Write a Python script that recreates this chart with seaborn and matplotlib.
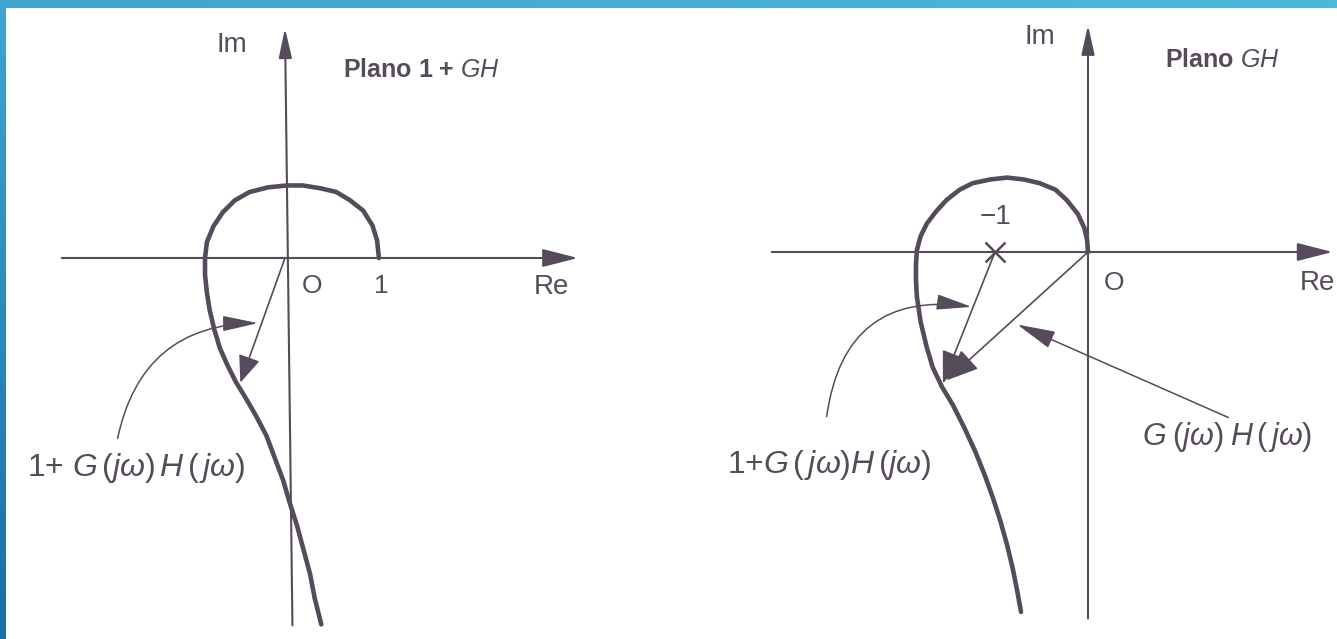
"""Nyquist diagrams: plane 1 + GH (left) and plane GH (right)."""

import matplotlib
matplotlib.use("Agg")
import numpy as np
import pandas as pd
from matplotlib import pyplot as plt
from matplotlib.colors import LinearSegmentedColormap
import seaborn as sns

# curve 1 + G(jw)H(jw) in the left plane (Re, Im)
one_gh_re = [1.01, 0.99, 0.94, 0.84, 0.70, 0.55, 0.38, 0.19, 0.02, -0.18,
             -0.38, -0.54, -0.67, -0.77, -0.84, -0.86, -0.86, -0.84, -0.81,
             -0.76, -0.70, -0.62, -0.53, -0.42, -0.31, -0.20, -0.11, -0.02,
             0.05, 0.13, 0.20, 0.27, 0.32, 0.39]
one_gh_im = [0.00, 0.19, 0.35, 0.51, 0.62, 0.71, 0.75, 0.78, 0.78, 0.76,
             0.71, 0.62, 0.49, 0.34, 0.17, 0.00, -0.18, -0.37, -0.56,
             -0.77, -0.97, -1.15, -1.33, -1.51, -1.70, -1.91, -2.15, -2.39,
             -2.63, -2.88, -3.14, -3.40, -3.66, -3.94]

# curve G(jw)H(jw) in the right plane (Re, Im)
gh_re = [0.00, -0.01, -0.04, -0.11, -0.23, -0.35, -0.52, -0.69, -0.87,
         -1.05, -1.24, -1.38, -1.52, -1.63, -1.73, -1.80, -1.84, -1.85,
         -1.85, -1.84, -1.80, -1.735, -1.67, -1.57, -1.45, -1.325, -1.21,
         -1.11, -1.02, -0.94, -0.87, -0.81, -0.76, -0.72]
gh_im = [0.00, 0.13, 0.26, 0.41, 0.56, 0.67, 0.74, 0.78, 0.80, 0.78, 0.74,
         0.67, 0.56, 0.44, 0.31, 0.17, 0.02, -0.14, -0.30, -0.48, -0.75,
         -1.02, -1.24, -1.45, -1.65, -1.90, -2.15, -2.40, -2.65, -2.90,
         -3.15, -3.40, -3.65, -3.87]

# vectors (start, tip)
left_vec = [(0.0, 0.0), (-0.48, -1.34)]
right_vec_from_m1 = [(-1.0, 0.0), (-1.56, -1.41)]
right_vec_from_0 = [(0.0, 0.0), (-1.52, -1.38)]
minus_one = (-1.0, 0.0)

# axis extents: (re_min, re_max, im_min, im_max)
left_axes = (-2.40, 3.15, -3.95, 2.47)
right_axes = (-3.40, 2.63, -3.94, 2.44)

INK = "#564b5a"

sns.set_theme(style="white")
plt.rcParams["font.family"] = ["Liberation Sans", "DejaVu Sans"]
plt.rcParams["mathtext.fontset"] = "custom"
plt.rcParams["mathtext.rm"] = "Liberation Sans"
plt.rcParams["mathtext.it"] = "Liberation Sans:italic"
plt.rcParams["lines.solid_joinstyle"] = "round"
plt.rcParams["lines.solid_capstyle"] = "round"

fig = plt.figure(figsize=(13.37, 6.39), dpi=100)
fig.patch.set_facecolor("white")

# pixel scale: 93 px per unit, origins at (285, 258) and (1088, 252)
ax1 = fig.add_axes([0, 0, 668 / 1337, 1])
ax1.set_xlim(-285 / 93, 383 / 93)
ax1.set_ylim(-381 / 93, 258 / 93)
ax2 = fig.add_axes([668 / 1337, 0, 669 / 1337, 1])
ax2.set_xlim(-420 / 93, 249 / 93)
ax2.set_ylim(-387 / 93, 252 / 93)


def arrow(ax, start, tip, lw, hl, hw, ms=40, rad=0.0):
    ax.annotate("", xy=tip, xytext=start,
                arrowprops=dict(arrowstyle=f"-|>,head_length={hl},head_width={hw}",
                                lw=lw, color=INK, shrinkA=0, shrinkB=0,
                                mutation_scale=ms,
                                connectionstyle=f"arc3,rad={rad}"))


def draw_axes(ax, ext, tilt=0.0):
    re_min, re_max, im_min, im_max = ext
    arrow(ax, (re_min, 0), (re_max, 0), 1.5, 0.55, 0.14)
    arrow(ax, (tilt, im_min), (0, im_max), 1.5, 0.45, 0.1)


for ax in (ax1, ax2):
    ax.set_axis_off()

# left plane
draw_axes(ax1, left_axes, tilt=0.08)
df1 = pd.DataFrame({"re": one_gh_re, "im": one_gh_im})
sns.lineplot(data=df1, x="re", y="im", sort=False, estimator=None,
             color=INK, lw=3.3, ax=ax1)
arrow(ax1, left_vec[0], left_vec[1], 1.2, 0.42, 0.17)
arrow(ax1, (-1.80, -1.94), (-0.29, -0.70), 1.1, 0.55, 0.12, rad=-0.4)

ax1.text(-0.74, 2.29, "Im", fontsize=20, color=INK, ha="left", va="center")
ax1.text(0.62, 2.02, r"Plano 1 + $GH$", fontsize=18, fontweight="bold",
         color=INK, ha="left", va="center")
ax1.text(0.18, -0.30, "O", fontsize=19, color=INK, ha="left", va="center")
ax1.text(0.96, -0.30, "1", fontsize=19, color=INK, ha="left", va="center")
ax1.text(2.68, -0.31, "Re", fontsize=20, color=INK, ha="left", va="center")
ax1.text(-2.77, -2.26, r"1+ $G\,(j\omega)\,H\,(\,j\omega)$", fontsize=23,
         color=INK, ha="left", va="center")

# right plane
draw_axes(ax2, right_axes)
df2 = pd.DataFrame({"re": gh_re, "im": gh_im})
sns.lineplot(data=df2, x="re", y="im", sort=False, estimator=None,
             color=INK, lw=3.3, ax=ax2)
arrow(ax2, right_vec_from_m1[0], right_vec_from_m1[1], 1.2, 0.5, 0.2)
arrow(ax2, right_vec_from_0[0], right_vec_from_0[1], 1.2, 0.5, 0.2)
arrow(ax2, (-2.81, -1.77), (-1.25, -0.59), 1.1, 0.55, 0.12, rad=-0.5)
arrow(ax2, (1.51, -1.78), (-0.76, -0.78), 1.1, 0.6, 0.14)
ax2.plot(*minus_one, marker="x", ms=14, mew=1.8, color=INK)

ax2.text(-0.68, 2.31, "Im", fontsize=20, color=INK, ha="left", va="center")
ax2.text(0.83, 2.06, r"Plano $GH$", fontsize=18, fontweight="bold",
         color=INK, ha="left", va="center")
ax2.text(-1.17, 0.38, "\u22121", fontsize=20, color=INK, ha="left", va="center")
ax2.text(0.17, -0.33, "O", fontsize=19, color=INK, ha="left", va="center")
ax2.text(2.28, -0.33, "Re", fontsize=20, color=INK, ha="left", va="center")
ax2.text(-3.88, -2.29, r"1+$G\,(\,j\omega)H\,(j\omega)$", fontsize=23,
         color=INK, ha="left", va="center")
ax2.text(0.58, -1.99, r"$G\;(j\omega)\;H\,(\,j\omega)$", fontsize=22,
         color=INK, ha="left", va="center")

# blue slide frame (top and left bands)
grad = np.linspace(0, 1, 256).reshape(1, -1)
ax_top = fig.add_axes([0, 1 - 8 / 639, 1, 8 / 639])
ax_top.imshow(grad, aspect="auto",
              cmap=LinearSegmentedColormap.from_list("t", ["#3fa5cc", "#4db9d9"]))
ax_top.set_axis_off()
ax_left = fig.add_axes([0, 0, 6 / 1337, 1 - 8 / 639])
ax_left.imshow(grad.T, aspect="auto",
               cmap=LinearSegmentedColormap.from_list("l", ["#3fa5cc", "#1a6ea2"]))
ax_left.set_axis_off()

fig.savefig("out.png", dpi=100, facecolor="white")
